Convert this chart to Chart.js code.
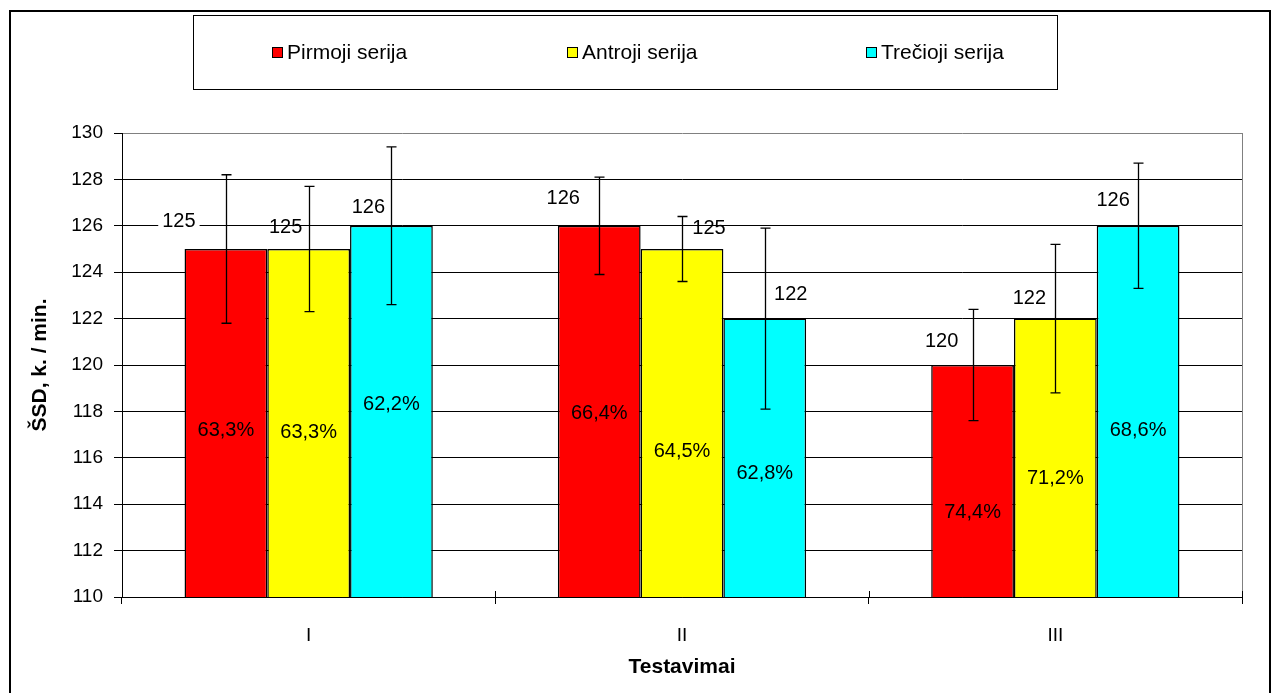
<!DOCTYPE html>
<html>
<head>
<meta charset="utf-8">
<script src="https://cdn.jsdelivr.net/npm/chart.js@4/dist/chart.umd.min.js"></script>
<style>
  html, body { margin: 0; padding: 0; background: #fff; }
  #wrap { width: 1275px; height: 693px; position: relative; }
</style>
</head>
<body>
<div id="wrap"><canvas id="c" width="1275" height="693"></canvas></div>
<script>
// ---- data ----
const categories = ['I', 'II', 'III'];
const seriesNames = ['Pirmoji serija', 'Antroji serija', 'Trečioji serija'];
const pirmoji = [125, 126, 120];
const antroji = [125, 125, 122];
const trecioji = [126, 122, 126];
const pirmojiSD = [3.2, 2.1, 2.4];
const antrojiSD = [2.7, 1.4, 3.2];
const treciojiSD = [3.4, 3.9, 2.7];
const pirmojiPct = [63.3, 66.4, 74.4];
const antrojiPct = [63.3, 64.5, 71.2];
const treciojiPct = [62.2, 62.8, 68.6];
const yMin = 110, yMax = 130, yStep = 2;

// ---- label placement (layout, not data) ----
const valueLabelOffsets = [
  [[-47, -28], [-36, -27], [-31, -24]],
  [[-23, -22], [27, -21], [-26, -20]],
  [[-23, -18], [26, -24], [-25, -25]]
];
const pctLabelAnchors = [
  [117.17, 117.92, 113.63],
  [117.10, 116.26, 115.09],
  [118.28, 115.33, 117.17]
];
const legendItemX = [272, 567, 866];

const FONT = '"Liberation Sans", Arial, sans-serif';
const colors = ['#FF0000', '#FFFF00', '#00FFFF'];
const values = [pirmoji, antroji, trecioji];
const sds = [pirmojiSD, antrojiSD, treciojiSD];
const pcts = [pirmojiPct, antrojiPct, treciojiPct];

const decorPlugin = {
  id: 'decor',
  afterDatasetsDraw(chart) {
    const ctx = chart.ctx;
    const y = chart.scales.y;
    const x = chart.scales.x;
    const area = chart.chartArea;
    ctx.save();
    // plot area right border (gray)
    ctx.strokeStyle = '#808080';
    ctx.lineWidth = 1;
    ctx.beginPath();
    ctx.moveTo(Math.round(area.right) + 0.5, area.top);
    ctx.lineTo(Math.round(area.right) + 0.5, area.bottom);
    ctx.stroke();

    // category tick marks crossing slightly above the axis
    ctx.strokeStyle = '#000';
    ctx.lineWidth = 1;
    const n = categories.length;
    for (let k = 0; k <= n; k++) {
      const px = Math.round(area.left + (area.right - area.left) * k / n) + 0.5;
      ctx.beginPath();
      ctx.moveTo(px, area.bottom - 6);
      ctx.lineTo(px, area.bottom);
      ctx.stroke();
    }

    // error bars
    ctx.strokeStyle = '#000';
    ctx.lineWidth = 1.3;
    chart.data.datasets.forEach((ds, i) => {
      const meta = chart.getDatasetMeta(i);
      meta.data.forEach((bar, j) => {
        const v = values[i][j], sd = sds[i][j];
        const yt = y.getPixelForValue(v + sd);
        const yb = y.getPixelForValue(v - sd);
        const bx = Math.round(bar.x) + 0.5;
        ctx.beginPath();
        ctx.moveTo(bx, yt); ctx.lineTo(bx, yb);
        ctx.moveTo(bx - 5, yt); ctx.lineTo(bx + 5, yt);
        ctx.moveTo(bx - 5, yb); ctx.lineTo(bx + 5, yb);
        ctx.stroke();
      });
    });

    // value labels and percentage labels
    ctx.font = '20px ' + FONT;
    ctx.textAlign = 'center';
    ctx.textBaseline = 'middle';
    chart.data.datasets.forEach((ds, i) => {
      const meta = chart.getDatasetMeta(i);
      meta.data.forEach((bar, j) => {
        const off = valueLabelOffsets[i][j];
        const lx = bar.x + off[0], ly = bar.y + off[1];
        const txt = String(values[i][j]);
        if (i === 0) {
          const w = ctx.measureText(txt).width;
          ctx.fillStyle = '#fff';
          ctx.fillRect(lx - w / 2 - 4, ly - 11, w + 8, 22);
        }
        ctx.fillStyle = '#000';
        ctx.fillText(txt, lx, ly);
        const pTxt = pcts[i][j].toFixed(1).replace('.', ',') + '%';
        ctx.fillText(pTxt, bar.x, y.getPixelForValue(pctLabelAnchors[i][j]));
      });
    });
    ctx.restore();
  },
  afterDraw(chart) {
    const ctx = chart.ctx;
    ctx.save();
    // outer frame
    ctx.strokeStyle = '#000';
    ctx.lineWidth = 2;
    ctx.strokeRect(10, 11, 1260, 690);
    // legend box
    ctx.lineWidth = 1;
    ctx.strokeRect(193.5, 15.5, 864, 74);
    ctx.font = '21px ' + FONT;
    ctx.textAlign = 'left';
    ctx.textBaseline = 'middle';
    chart.data.datasets.forEach((ds, i) => {
      const lx = legendItemX[i];
      ctx.fillStyle = ds.backgroundColor;
      ctx.fillRect(lx + 0.5, 47.5, 10, 10);
      ctx.strokeStyle = '#000';
      ctx.strokeRect(lx + 0.5, 47.5, 10, 10);
      ctx.fillStyle = '#000';
      ctx.fillText(ds.label, lx + 15, 53);
    });
    ctx.restore();
  }
};

const chart = new Chart(document.getElementById('c'), {
  type: 'bar',
  data: {
    labels: categories,
    datasets: seriesNames.map((name, i) => ({
      label: name,
      data: values[i],
      backgroundColor: colors[i],
      borderColor: '#000',
      borderWidth: 1.5,
      borderSkipped: false,
      categoryPercentage: 0.665,
      barPercentage: 1.0
    }))
  },
  options: {
    responsive: false,
    animation: false,
    devicePixelRatio: 1,
    layout: { padding: { top: 133, right: 33, left: 0, bottom: 0 } },
    plugins: {
      legend: { display: false },
      tooltip: { enabled: false },
      title: { display: false }
    },
    scales: {
      x: {
        afterFit(scale) { scale.height = 96; },
        grid: {
          offset: true,
          drawOnChartArea: false,
          drawTicks: true,
          tickLength: 7,
          tickColor: '#000'
        },
        border: { display: true, color: '#000', width: 1 },
        ticks: {
          color: '#000',
          font: { family: FONT, size: 19 },
          padding: 20
        },
        title: {
          display: true,
          text: 'Testavimai',
          color: '#000',
          font: { family: FONT, size: 21, weight: 'bold' },
          padding: { top: 0, bottom: 13 }
        }
      },
      y: {
        min: yMin,
        max: yMax,
        afterFit(scale) { scale.width = 122; },
        grid: {
          color: (c) => (c.tick && c.tick.value === yMax ? '#808080' : '#000'),
          lineWidth: 1,
          drawTicks: true,
          tickLength: 8,
          tickColor: '#000'
        },
        border: { display: true, color: '#000', width: 1 },
        ticks: {
          stepSize: yStep,
          color: '#000',
          font: { family: FONT, size: 19 },
          padding: 11
        },
        title: {
          display: true,
          text: 'ŠSD, k. / min.',
          color: '#000',
          font: { family: FONT, size: 21, weight: 'bold' },
          padding: { top: 28, bottom: 0 }
        }
      }
    }
  },
  plugins: [decorPlugin]
});
</script>
</body>
</html>
